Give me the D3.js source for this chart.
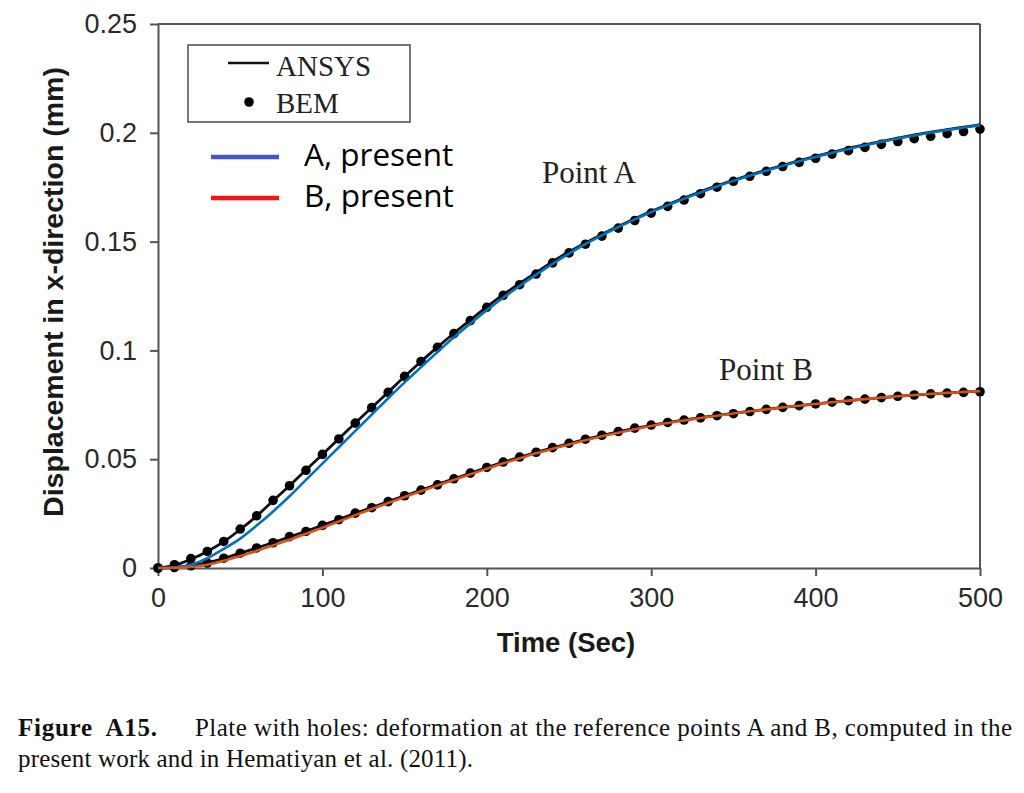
<!DOCTYPE html>
<html>
<head>
<meta charset="utf-8">
<script src="https://cdn.jsdelivr.net/npm/d3@7"></script>
<style>
  html, body { margin: 0; padding: 0; background: #fff; }
  svg { display: block; }
</style>
</head>
<body>
<svg id="chart" width="1024" height="793"></svg>
<script>
// ---------- data ----------
const timeSteps = [0,10,20,30,40,50,60,70,80,90,100,110,120,130,140,150,160,170,180,190,200,
  210,220,230,240,250,260,270,280,290,300,310,320,330,340,350,360,370,380,390,400,
  410,420,430,440,450,460,470,480,490,500];

const bemA = [0,0.0015,0.0043,0.0076,0.0122,0.0179,0.0240,0.0311,0.0378,0.0449,0.0522,
  0.0593,0.0666,0.0737,0.0807,0.0881,0.0949,0.1014,0.1077,0.1137,0.1198,
  0.1253,0.1302,0.1351,0.1402,0.1448,0.1488,0.1525,0.1562,0.1597,0.1631,
  0.1662,0.1691,0.1720,0.1750,0.1777,0.1800,0.1823,0.1845,0.1864,0.1883,
  0.1902,0.1918,0.1933,0.1947,0.1960,0.1973,0.1984,0.1996,0.2006,0.2017];

const bemB = [0,0.0002,0.0010,0.0023,0.0045,0.0068,0.0092,0.0116,0.0144,0.0168,0.0196,
  0.0222,0.0252,0.0277,0.0305,0.0332,0.0358,0.0382,0.0410,0.0436,0.0462,
  0.0487,0.0510,0.0532,0.0553,0.0573,0.0592,0.0610,0.0627,0.0643,0.0657,
  0.0669,0.0680,0.0690,0.0700,0.0709,0.0719,0.0729,0.0738,0.0746,0.0754,
  0.0762,0.0769,0.0776,0.0783,0.0789,0.0795,0.0800,0.0804,0.0807,0.0810];

const ansysA = [0,0.0012,0.0040,0.0076,0.0121,0.0177,0.0239,0.0309,0.0378,0.0450,0.0522,
  0.0594,0.0666,0.0737,0.0808,0.0880,0.0949,0.1015,0.1079,0.1140,0.1200,
  0.1256,0.1308,0.1358,0.1408,0.1453,0.1494,0.1533,0.1570,0.1605,0.1639,
  0.1670,0.1700,0.1729,0.1756,0.1782,0.1806,0.1829,0.1851,0.1872,0.1892,
  0.1911,0.1929,0.1945,0.1961,0.1976,0.1990,0.2003,0.2015,0.2026,0.2037];

const ansysB = [0,0.0003,0.0011,0.0025,0.0045,0.0068,0.0092,0.0117,0.0143,0.0169,0.0196,
  0.0223,0.0251,0.0278,0.0305,0.0332,0.0358,0.0384,0.0410,0.0436,0.0462,
  0.0486,0.0509,0.0531,0.0552,0.0572,0.0591,0.0609,0.0626,0.0642,0.0656,
  0.0669,0.0680,0.0691,0.0701,0.0711,0.0720,0.0729,0.0738,0.0746,0.0754,
  0.0762,0.0769,0.0776,0.0783,0.0789,0.0795,0.0800,0.0805,0.0809,0.0812];

const presentA = [0,0.0003,0.0015,0.0045,0.0088,0.0135,0.0195,0.0260,0.0330,0.0405,0.0480,
  0.0555,0.0630,0.0705,0.0780,0.0853,0.0923,0.0993,0.1060,0.1124,0.1185,
  0.1242,0.1296,0.1348,0.1398,0.1445,0.1489,0.1529,0.1567,0.1602,0.1636,
  0.1667,0.1697,0.1726,0.1753,0.1779,0.1803,0.1826,0.1848,0.1869,0.1889,
  0.1908,0.1926,0.1943,0.1959,0.1974,0.1988,0.2001,0.2013,0.2024,0.2035];

const presentB = [0,0.0000,0.0005,0.0015,0.0033,0.0055,0.0079,0.0104,0.0130,0.0157,0.0185,
  0.0214,0.0243,0.0271,0.0299,0.0326,0.0353,0.0379,0.0405,0.0431,0.0456,
  0.0481,0.0504,0.0527,0.0548,0.0568,0.0587,0.0605,0.0622,0.0638,0.0653,
  0.0666,0.0678,0.0689,0.0700,0.0710,0.0720,0.0729,0.0738,0.0746,0.0754,
  0.0762,0.0769,0.0776,0.0783,0.0789,0.0795,0.0800,0.0805,0.0809,0.0813];

const xTicks = [0,100,200,300,400,500];
const xTickLabels = ["0","100","200","300","400","500"];
const yTicks = [0,0.05,0.1,0.15,0.2,0.25];
const yTickLabels = ["0","0.05","0.1","0.15","0.2","0.25"];

const xTitle = "Time (Sec)";
const yTitle = "Displacement in x-direction (mm)";
const legendOld = ["ANSYS","BEM"];
const legendNew = ["A, present","B, present"];
const pointLabels = ["Point A","Point B"];
const captionBold = "Figure  A15.";
const captionLine1 = "Plate with holes: deformation at the reference points A and B, computed in the";
const captionLine2 = "present work and in Hematiyan et al. (2011).";

// ---------- layout ----------
const svg = d3.select("#chart");
const L = 158, R = 980, T = 24, B = 568;
const x = d3.scaleLinear().domain([0,500]).range([L,R]);
const y = d3.scaleLinear().domain([0,0.25]).range([B,T]);
const axisColor = "#555";
const sans = "'Liberation Sans', Arial, sans-serif";
const serif = "'Liberation Serif', 'Times New Roman', serif";

// plot box (top & right)
svg.append("line").attr("x1",L).attr("x2",R).attr("y1",T).attr("y2",T)
  .attr("stroke",axisColor).attr("stroke-width",2);
svg.append("line").attr("x1",R).attr("x2",R).attr("y1",T).attr("y2",B)
  .attr("stroke",axisColor).attr("stroke-width",2);

// axes
const xAxis = svg.append("g").attr("transform",`translate(0,${B})`)
  .call(d3.axisBottom(x).tickValues(xTicks).tickFormat((d,i)=>xTickLabels[i])
    .tickSize(8).tickSizeOuter(0).tickPadding(12));
const yAxis = svg.append("g").attr("transform",`translate(${L},0)`)
  .call(d3.axisLeft(y).tickValues(yTicks).tickFormat((d,i)=>yTickLabels[i])
    .tickSize(8).tickSizeOuter(0).tickPadding(13));
[xAxis,yAxis].forEach(g=>{
  g.select(".domain").attr("stroke",axisColor).attr("stroke-width",2);
  g.selectAll(".tick line").attr("stroke",axisColor).attr("stroke-width",2);
  g.selectAll(".tick text").attr("fill","#2a2a2a").style("font-family",sans).style("font-size","27px");
});

// axis titles
svg.append("text").attr("x",(L+R)/2 - 3).attr("y",652).attr("text-anchor","middle")
  .style("font-family",sans).style("font-size","27.5px").style("font-weight","bold")
  .attr("fill","#1a1a1a").text(xTitle);
svg.append("text").attr("transform",`translate(63,${292}) rotate(-90)`).attr("text-anchor","middle")
  .style("font-family",sans).style("font-size","28.5px").style("font-weight","bold")
  .attr("fill","#1a1a1a").text(yTitle);

// series
const pts = arr => arr.map((v,i)=>[timeSteps[i], v]);
const line = d3.line().x(d=>x(d[0])).y(d=>y(d[1])).curve(d3.curveMonotoneX);

svg.append("path").datum(pts(ansysA)).attr("d",line).attr("fill","none")
  .attr("stroke","#111").attr("stroke-width",2.8);
svg.append("path").datum(pts(ansysB)).attr("d",line).attr("fill","none")
  .attr("stroke","#111").attr("stroke-width",2.8);

[bemA,bemB].forEach(arr=>{
  svg.append("g").selectAll("circle").data(pts(arr)).join("circle")
    .attr("cx",d=>x(d[0])).attr("cy",d=>y(d[1])).attr("r",4.8).attr("fill","#000");
});

svg.append("path").datum(pts(presentA)).attr("d",line).attr("fill","none")
  .attr("stroke","#0072BD").attr("stroke-width",2.6);
svg.append("path").datum(pts(presentB)).attr("d",line).attr("fill","none")
  .attr("stroke","#D95319").attr("stroke-width",2.6);

// point labels
svg.append("text").attr("x",542).attr("y",183).style("font-family",serif).style("font-size","31px")
  .attr("fill","#222").text(pointLabels[0]);
svg.append("text").attr("x",719).attr("y",380).style("font-family",serif).style("font-size","31px")
  .attr("fill","#222").text(pointLabels[1]);

// legend (old)
svg.append("rect").attr("x",188).attr("y",45).attr("width",222).attr("height",77)
  .attr("fill","#fff").attr("stroke",axisColor).attr("stroke-width",1.6);
svg.append("line").attr("x1",228).attr("x2",269).attr("y1",63).attr("y2",63)
  .attr("stroke","#111").attr("stroke-width",2.5);
svg.append("text").attr("x",276).attr("y",76).style("font-family",serif).style("font-size","29px")
  .attr("fill","#222").text(legendOld[0]);
svg.append("circle").attr("cx",249).attr("cy",102).attr("r",4.8).attr("fill","#000");
svg.append("text").attr("x",276).attr("y",113).style("font-family",serif).style("font-size","29px")
  .attr("fill","#222").text(legendOld[1]);

// legend (new)
const newColors = ["#4455cc","#ff1010"];
const newY = [157,198];
legendNew.forEach((t,i)=>{
  svg.append("line").attr("x1",211).attr("x2",279).attr("y1",newY[i]).attr("y2",newY[i])
    .attr("stroke",newColors[i]).attr("stroke-width",4.5);
  svg.append("text").attr("x",304).attr("y",newY[i]+9).style("font-family","'Open Sans', 'Noto Sans', sans-serif")
    .style("font-size","31.5px").attr("fill","#000").text(t);
});

// caption
svg.append("text").attr("x",18).attr("y",736).style("font-family",serif).style("font-size","25px")
  .style("font-weight","bold").style("white-space","pre").attr("fill","#111")
  .attr("textLength",139).attr("lengthAdjust","spacing").text(captionBold);
svg.append("text").attr("x",195).attr("y",736).style("font-family",serif).style("font-size","25px")
  .attr("fill","#111").attr("textLength",817).attr("lengthAdjust","spacing").text(captionLine1);
svg.append("text").attr("x",18).attr("y",767).style("font-family",serif).style("font-size","25px")
  .attr("fill","#111").attr("textLength",455).attr("lengthAdjust","spacing").text(captionLine2);
</script>
</body>
</html>
